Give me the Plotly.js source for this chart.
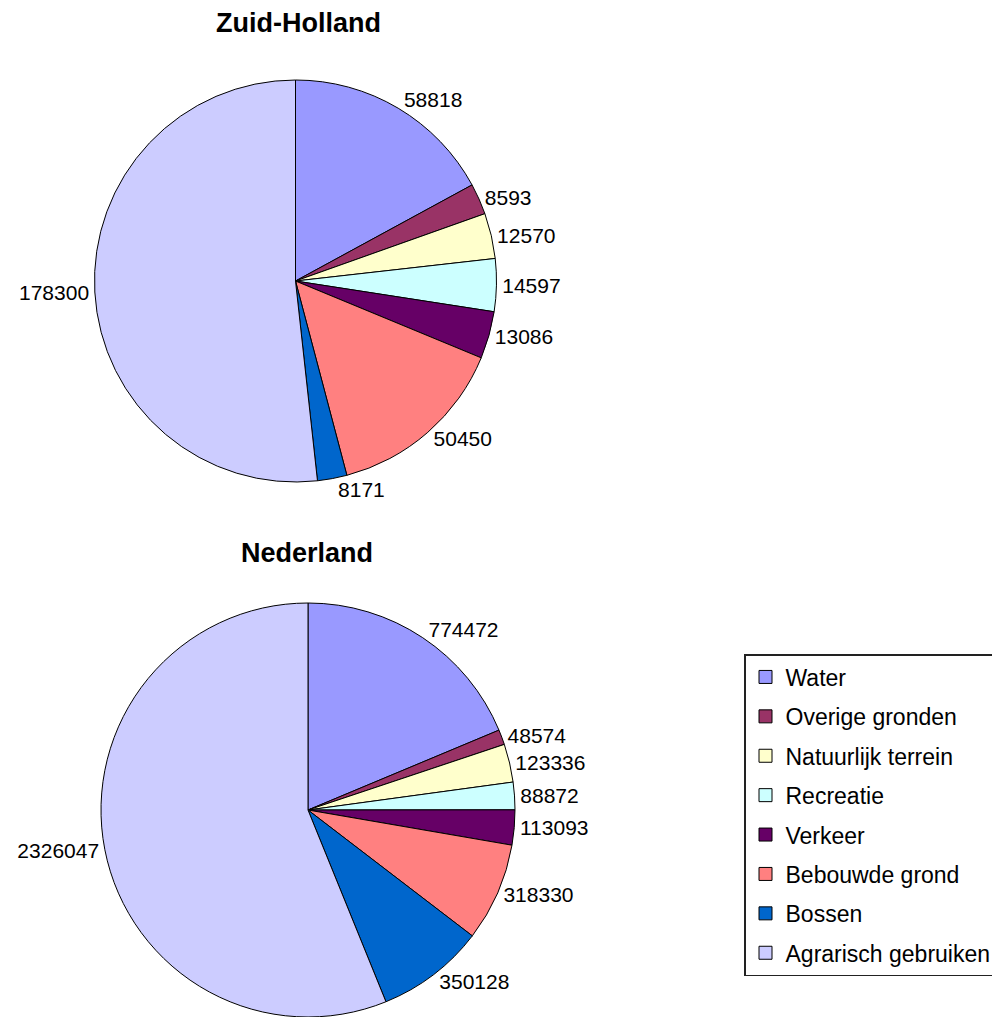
<!DOCTYPE html>
<html>
<head>
<meta charset="utf-8">
<script src="https://cdn.plot.ly/plotly-3.0.1.min.js"></script>
<style>
html,body{margin:0;padding:0;background:#fff;overflow:hidden;}
#chart{width:992px;height:1017px;}
</style>
</head>
<body>
<div id="chart"></div>
<script>
// ---- data ----
const categories = ["Water", "Overige gronden", "Natuurlijk terrein", "Recreatie", "Verkeer", "Bebouwde grond", "Bossen", "Agrarisch gebruiken"];
const zuidHolland = [58818, 8593, 12570, 14597, 13086, 50450, 8171, 178300];
const nederland = [774472, 48574, 123336, 88872, 113093, 318330, 350128, 2326047];
const chartTitles = ["Zuid-Holland", "Nederland"];
const colors = ["#9999FF", "#993366", "#FFFFCC", "#CCFFFF", "#660066", "#FF8080", "#0066CC", "#CCCCFF"];

const W = 992, H = 1017;
function dom(cx, cy, rx, ry) {
  return {
    x: [(cx - rx) / W, (cx + rx) / W],
    y: [Math.max(0, (H - cy - ry) / H), Math.min(1, (H - cy + ry) / H)]
  };
}
const font = "Liberation Sans, Arial, sans-serif";

function pieTrace(values, domain) {
  return {
    type: "pie",
    labels: categories,
    values: values,
    text: values.map(v => String(v)),
    textinfo: "text",
    textposition: "outside",
    outsidetextfont: {family: font, size: 21, color: "#000"},
    sort: false,
    direction: "clockwise",
    rotation: 0,
    marker: {colors: colors, line: {color: "#000", width: 1}},
    showlegend: false,
    hoverinfo: "label+value+percent",
    domain: domain
  };
}

const traces = [
  pieTrace(zuidHolland, dom(295.5, 281, 201, 201)),
  pieTrace(nederland, dom(308, 810, 207, 207))
];

// legend entries
categories.forEach((c, i) => {
  traces.push({
    type: "scatter",
    x: [null], y: [null],
    mode: "markers",
    name: c,
    legendgroup: "g" + i,
    marker: {symbol: "square", size: 13, color: colors[i], line: {color: "#000", width: 1}},
    hoverinfo: "skip",
    showlegend: true
  });
});

const layout = {
  width: W, height: H,
  margin: {l: 0, r: 0, t: 0, b: 0, autoexpand: false},
  paper_bgcolor: "#fff",
  plot_bgcolor: "#fff",
  xaxis: {visible: false},
  yaxis: {visible: false},
  showlegend: true,
  legend: {
    x: 744 / W, y: 1 - 654 / H, xanchor: "left", yanchor: "top",
    bordercolor: "#222", borderwidth: 1.5, bgcolor: "#fff",
    font: {family: font, size: 23, color: "#000"},
    traceorder: "grouped",
    tracegroupgap: 6.5,
    itemclick: false
  },
  annotations: [
    {text: "<b>" + chartTitles[0] + "</b>", x: 298 / W, y: 1 - 23 / H, xref: "paper", yref: "paper",
     xanchor: "center", yanchor: "middle", showarrow: false, font: {family: font, size: 27, color: "#000"}},
    {text: "<b>" + chartTitles[1] + "</b>", x: 307 / W, y: 1 - 553 / H, xref: "paper", yref: "paper",
     xanchor: "center", yanchor: "middle", showarrow: false, font: {family: font, size: 27, color: "#000"}}
  ]
};

Plotly.newPlot("chart", traces, layout, {displayModeBar: false, staticPlot: true});
</script>
</body>
</html>
